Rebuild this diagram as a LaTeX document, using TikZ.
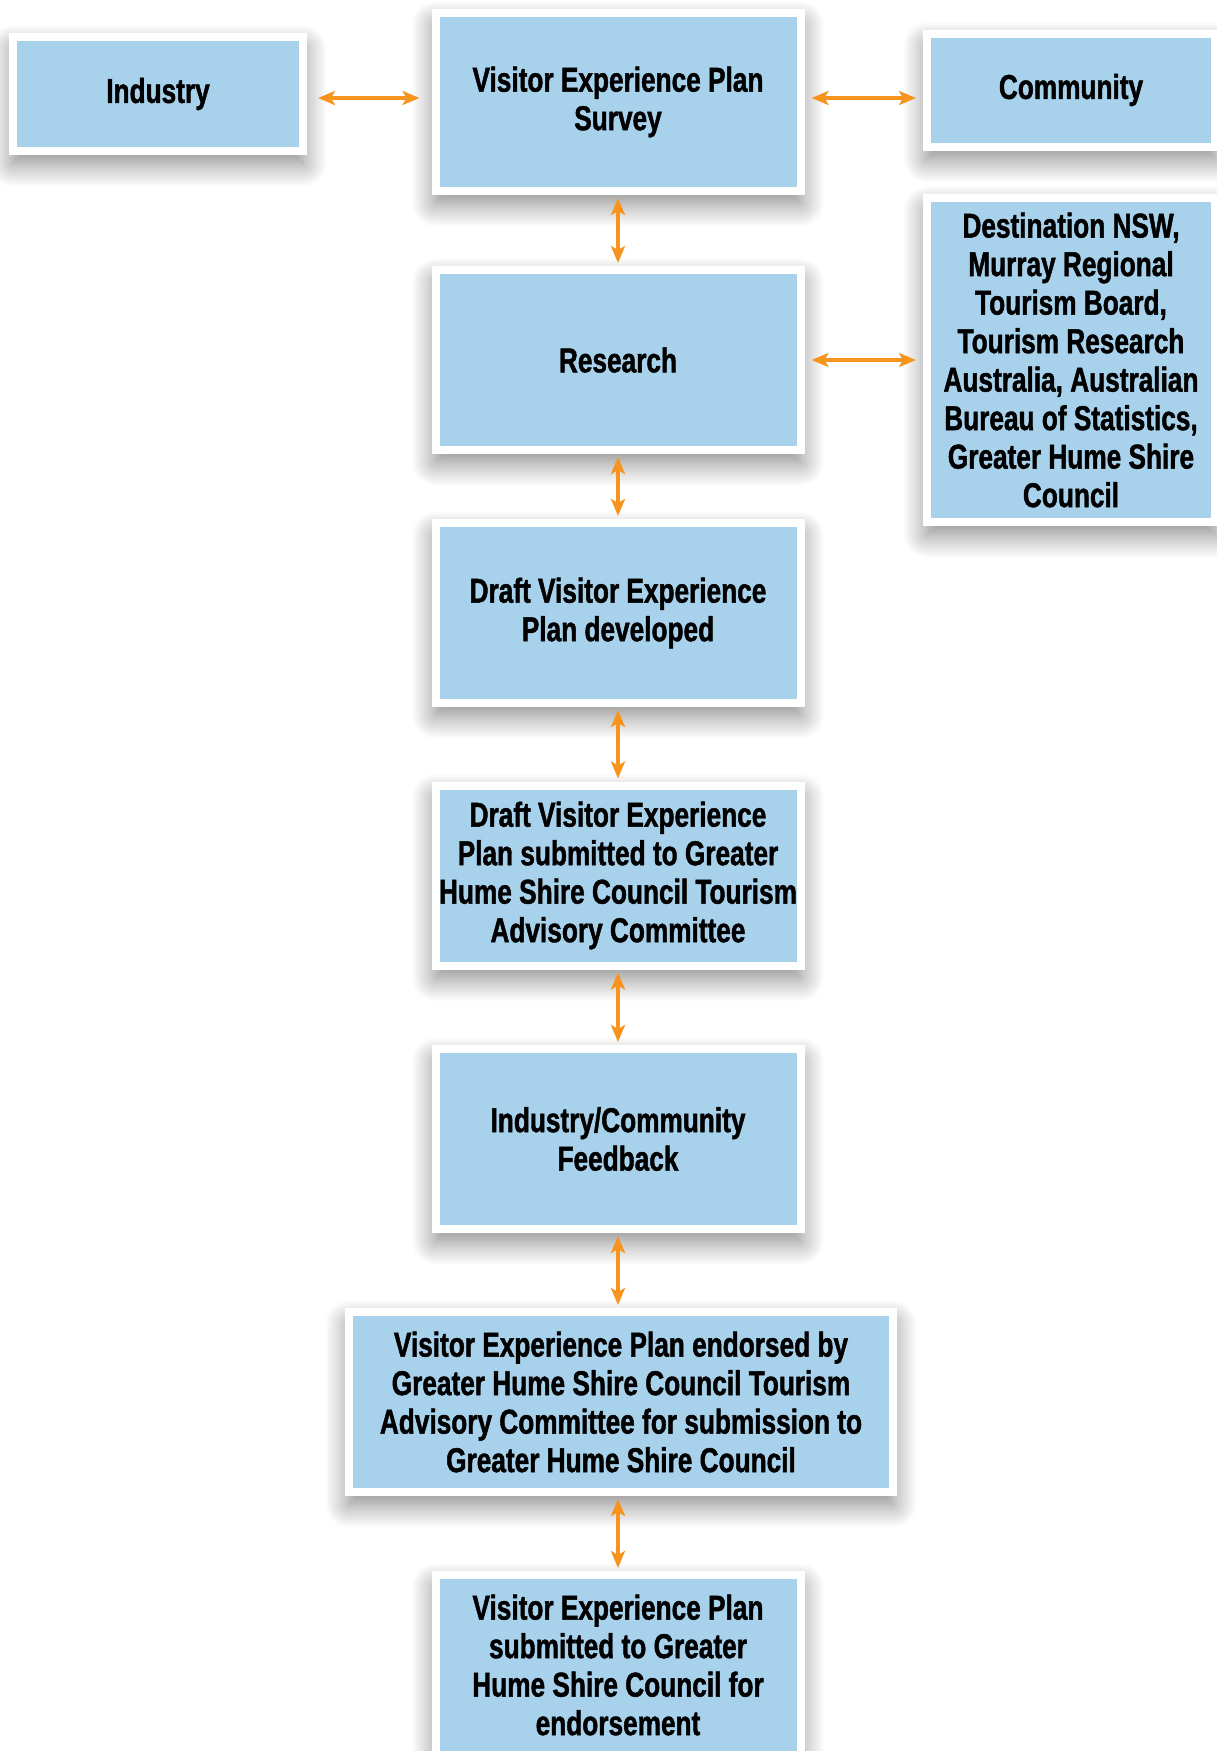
\documentclass[tikz,border=0pt]{standalone}
\usepackage{fontspec}
\setmainfont{Liberation Sans}[FakeStretch=0.76, BoldFeatures={FakeBold=1.3}]
\usetikzlibrary{arrows.meta,shadows.blur}
\definecolor{boxblue}{RGB}{168,210,235}
\definecolor{linkorange}{RGB}{247,148,30}

\begin{document}
\begin{tikzpicture}[x=1pt, y=-1pt, >={Stealth[length=17pt,width=14pt,inset=4pt]},
  box/.style={draw=white, line width=8pt, fill=boxblue, inner sep=0pt, align=center,
    font=\fontsize{34.5}{38.5}\selectfont\bfseries,
    blur shadow={shadow xshift=0pt, shadow yshift=-12pt, shadow blur radius=24pt,
      shadow blur steps=16, shadow opacity=50}},
  link/.style={<->, draw=linkorange, line width=3.5pt}]
  \useasboundingbox (0,0) rectangle (1216,1751);

  % Top row
  \node[box, minimum width=290pt, minimum height=114pt] (ind) at (158,94) {Industry};
  \node[box, minimum width=365pt, minimum height=178pt] (srv) at (618,102) {Visitor Experience Plan\\Survey};
  \node[box, minimum width=288pt, minimum height=113pt] (com) at (1071,90) {Community};

  % Research and its sources
  \node[box, minimum width=365pt, minimum height=180pt] (res) at (618,360) {Research};
  \node[box, minimum width=288pt, minimum height=324pt] (dst) at (1071,360)
    {Destination NSW,\\Murray Regional\\Tourism Board,\\Tourism Research\\Australia, Australian\\Bureau of Statistics,\\Greater Hume Shire\\Council};

  % Main column
  \node[box, minimum width=365pt, minimum height=180pt] (drf) at (618,613) {Draft Visitor Experience\\Plan developed};
  \node[box, minimum width=365pt, minimum height=180pt] (tac) at (618,875.5)
    {Draft Visitor Experience\\Plan submitted to Greater\\Hume Shire Council Tourism\\Advisory Committee};
  \node[box, minimum width=365pt, minimum height=180pt] (fbk) at (618,1139) {Industry/Community\\Feedback};
  \node[box, minimum width=544pt, minimum height=180pt] (endo) at (621,1402)
    {Visitor Experience Plan endorsed by\\Greater Hume Shire Council Tourism\\Advisory Committee for submission to\\Greater Hume Shire Council};
  \node[box, minimum width=365pt, minimum height=180pt] (fin) at (618,1665)
    {Visitor Experience Plan\\submitted to Greater\\Hume Shire Council for\\endorsement};

  % Side links
  \draw[link, shorten <=12pt, shorten >=11pt] ([yshift=4pt]srv.west) -- ([yshift=4pt]srv.west -| ind.east);
  \draw[link, shorten <=7pt, shorten >=7pt] ([yshift=4pt]srv.east) -- ([yshift=4pt]srv.east -| com.west);
  \draw[link, shorten <=7pt, shorten >=7pt] (res.east) -- (res.east -| dst.west);

  % Links down the column
  \foreach \a/\b in {srv/res, res/drf, drf/tac, tac/fbk, fbk/endo, endo/fin} {
    \draw[link, shorten <=3pt, shorten >=3pt] (\a.south -| srv.south) -- (\b.north -| srv.south);
  }
\end{tikzpicture}
\end{document}
